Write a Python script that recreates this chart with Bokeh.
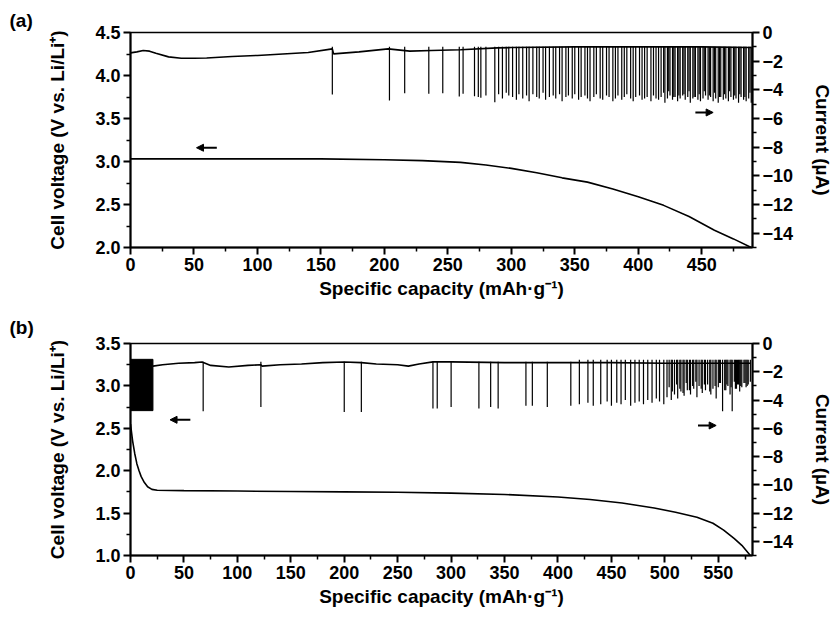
from bokeh.plotting import figure
from bokeh.models import (Range1d, LinearAxis, FixedTicker, CustomJSTickFormatter,
                          PrintfTickFormatter, Arrow, NormalHead)
from bokeh.layouts import column
from bokeh.embed import file_html
from bokeh.resources import INLINE

# ---------------- Panel (a) data ----------------
a_volt_cap = [0, 25, 50, 100, 150, 200, 230, 260, 280, 300, 320, 340, 360, 380, 400, 420, 440, 460, 475, 489]
a_volt = [3.03, 3.03, 3.03, 3.03, 3.03, 3.02, 3.01, 2.99, 2.96, 2.92, 2.87, 2.81, 2.76, 2.68, 2.59, 2.49, 2.36, 2.2, 2.1, 2.0]

a_cur_cap = [0, 5, 10, 15, 20, 30, 40, 50, 60, 80, 100, 120, 140, 159, 160, 180, 203, 220, 237, 260, 289, 300, 350, 400, 450, 489]
a_cur = [-1.42, -1.35, -1.26, -1.3, -1.45, -1.7, -1.8, -1.8, -1.78, -1.67, -1.6, -1.5, -1.4, -1.14, -1.49, -1.35, -1.14, -1.3,
         -1.26, -1.2, -1.07, -1.05, -1.0, -1.0, -1.0, -1.05]

a_spk_cap = [159, 204, 216, 235, 246, 259, 262, 271, 274, 276, 280, 287,
             290, 293, 296, 298, 301, 304, 306, 309, 312, 314, 317, 320, 322, 325, 327, 330, 333, 335, 338, 340,
             343, 345, 348, 350, 353, 355, 358, 360, 362, 365, 367, 370, 372, 375, 377, 380, 382, 384, 387, 389,
             391, 394, 396, 398, 401, 403, 405, 407, 410, 412, 414, 416, 418, 421, 423, 425, 427, 429, 431, 433,
             435, 437, 439, 441, 443, 445, 447, 449, 451, 453, 455, 457, 459, 461, 463, 465, 467, 469, 471, 473,
             475, 477, 479, 481, 483, 485, 487, 489,
             420, 424, 428, 432, 436, 440, 444, 448, 452, 456,
             460, 464, 468, 472, 476, 480, 484, 488]
a_spk_low = [-4.33, -4.75, -4.23, -4.28, -4.23, -4.47, -4.28, -4.45, -4.5, -4.55, -4.4, -4.86,
             -4.3, -4.6, -4.2, -4.4, -4.5, -4.7, -4.3, -4.6, -4.4, -4.8, -4.3, -4.5, -4.6, -4.2, -4.7, -4.5, -4.4, -4.6, -4.3, -4.8,
             -4.5, -4.4, -4.6, -4.3, -4.7, -4.5, -4.4, -4.6, -4.8, -4.5, -4.3, -4.6, -4.7, -4.4, -4.5, -4.8, -4.6, -4.4, -4.7, -4.5,
             -4.3, -4.6, -4.8, -4.5, -4.4, -4.7, -4.6, -4.5, -4.8, -4.4, -4.6, -4.7, -4.5, -4.9, -4.6, -4.4, -4.7, -4.5, -4.8, -4.6,
             -4.4, -4.7, -4.5, -4.9, -4.6, -4.5, -4.7, -4.8, -4.6, -4.4, -4.7, -4.5, -4.8, -4.6, -4.9, -4.5, -4.7, -4.6, -4.8, -4.5,
             -4.7, -4.6, -4.9, -4.5, -4.7, -4.8, -4.6, -4.9,
             -4.2, -4.1, -4.5, -4.4, -4.3, -4.1, -4.5, -4.3, -4.1, -4.4,
             -4.2, -4.5, -4.3, -4.1, -4.4, -4.3, -4.5, -4.2]
a_spk_top = [-1.0] * len(a_spk_cap)

# ---------------- Panel (b) data ----------------
b_volt_cap = [0, 2, 4, 6, 8, 10, 13, 16, 20, 25, 50, 100, 150, 200, 250, 300, 350, 400, 430, 460, 490, 510, 530, 545, 555, 565, 572, 580]
b_volt = [2.55, 2.35, 2.2, 2.08, 2.0, 1.93, 1.86, 1.81, 1.78, 1.77, 1.765, 1.76, 1.755, 1.75, 1.745, 1.735, 1.72, 1.69,
          1.66, 1.62, 1.56, 1.51, 1.45, 1.38, 1.3, 1.2, 1.12, 1.0]

b_block = [0, 21, -1.12, -4.75]   # left, right, top, bottom of the dense start region

b_cur_cap = [21, 30, 45, 60, 67, 75, 92, 110, 122, 123, 140, 160, 180, 200, 216, 230, 250, 260, 270, 283, 300, 350, 400, 450, 500, 550, 580]
b_cur = [-1.6, -1.5, -1.4, -1.35, -1.31, -1.55, -1.66, -1.55, -1.5, -1.6, -1.5, -1.45, -1.35, -1.31, -1.35, -1.45, -1.5,
         -1.6, -1.45, -1.3, -1.3, -1.35, -1.35, -1.35, -1.4, -1.4, -1.4]

b_spk_cap = [68, 122, 200, 216, 283, 287, 300, 326, 337, 344, 370, 376, 390, 412, 420, 428, 433, 440, 446, 450, 455,
             459, 463, 468, 472, 476, 480, 484, 488, 492, 495, 499, 502, 506, 509, 512, 515, 518, 521, 524, 527, 530,
             532, 535, 538, 540, 543, 545, 548, 550, 552, 554, 557, 559, 561, 563, 566, 568, 570, 572, 575, 577, 580,
             504, 507, 511, 514, 517, 520, 523, 526, 529, 534, 537, 542, 547, 551, 556, 558, 562, 565, 567, 569, 571,
             574, 576, 578]
b_spk_low = [-4.8, -4.5, -4.85, -4.85, -4.6, -4.6, -4.5, -4.6, -4.5, -4.6, -4.4, -4.4, -4.5, -4.4, -4.3, -4.2, -4.4,
             -4.3, -4.1, -4.4, -4.2, -4.3, -4.0, -4.4, -4.2, -4.1, -4.3, -4.0, -4.2, -3.9, -4.1, -4.3, -3.8, -4.0, -3.6,
             -3.9, -3.4, -3.7, -3.3, -3.6, -3.2, -3.8, -3.0, -3.5, -3.3, -2.9, -3.6, -3.2, -3.9, -3.1, -2.8, -4.8, -3.3,
             -3.0, -3.6, -4.8, -3.2, -2.9, -3.4, -3.1, -2.8, -3.0, -2.7,
             -3.1, -3.4, -2.9, -3.2, -3.5, -2.8, -3.3, -3.0, -2.7, -3.2, -2.9, -3.4, -3.0, -2.8, -3.3, -2.9, -3.1, -2.7,
             -3.2, -2.9, -3.0, -2.8, -3.1, -2.9]
b_spk_top = [-1.3] * 14 + [-1.15] * (len(b_spk_cap) - 14)

FONT = "Liberation Sans"


def style_panel(p, label, title_standoff, y_ticks, y_minor, x_ticks, x_minor, cur_range):
    p.xgrid.visible = False
    p.ygrid.visible = False
    p.outline_line_color = "black"
    p.outline_line_width = 1.5
    p.background_fill_color = "white"
    p.border_fill_color = "white"
    p.title.text = label
    p.title.align = "left"
    p.title.offset = -121
    p.title.standoff = title_standoff
    p.title.text_font = FONT
    p.title.text_font_style = "bold"
    p.title.text_font_size = "19px"
    p.title.text_color = "black"
    p.extra_y_ranges = {"cur": Range1d(*cur_range)}
    right = LinearAxis(y_range_name="cur")
    p.add_layout(right, "right")
    p.xaxis.ticker = FixedTicker(ticks=x_ticks, minor_ticks=x_minor)
    p.yaxis[0].ticker = FixedTicker(ticks=y_ticks, minor_ticks=y_minor)
    p.yaxis[0].formatter = PrintfTickFormatter(format="%.1f")
    right.ticker = FixedTicker(ticks=[0, -2, -4, -6, -8, -10, -12, -14],
                               minor_ticks=[-1, -3, -5, -7, -9, -11, -13, -15])
    right.formatter = CustomJSTickFormatter(code="return tick == 0 ? '0' : '\u2212' + Math.abs(tick);")
    for ax in [p.xaxis[0], p.yaxis[0], right]:
        ax.axis_line_width = 2
        ax.axis_line_color = "black"
        ax.major_tick_line_width = 2
        ax.minor_tick_line_width = 1.5
        ax.major_tick_out = 7
        ax.major_tick_in = 0
        ax.minor_tick_out = 4
        ax.minor_tick_in = 0
        ax.major_label_text_font = FONT
        ax.major_label_text_font_style = "bold"
        ax.major_label_text_font_size = "18px"
        ax.major_label_text_color = "black"
        ax.axis_label_text_font = FONT
        ax.axis_label_text_font_style = "bold"
        ax.axis_label_text_font_size = "19px"
        ax.axis_label_text_color = "black"
        ax.major_label_standoff = 3
    p.xaxis[0].axis_label_standoff = 4
    p.yaxis[0].axis_label_standoff = 24
    right.axis_label_standoff = 16
    p.xaxis[0].axis_label = "Specific capacity (mAh\u00b7g\u207b\u00b9)"
    p.yaxis[0].axis_label = "Cell voltage (V vs. Li/Li\u207a)"
    right.axis_label = "Current (\u00b5A)"
    return right


# ---------------- Figure (a) ----------------
pa = figure(width=836, height=309, x_range=Range1d(0, 490), y_range=Range1d(2.0, 4.5),
            output_backend="svg", toolbar_location=None,
            min_border_left=130, min_border_right=80, min_border_top=32, min_border_bottom=62)
style_panel(pa, "(a)", 3, [2.0, 2.5, 3.0, 3.5, 4.0, 4.5], [2.25, 2.75, 3.25, 3.75, 4.25],
            list(range(0, 500, 50)), list(range(25, 500, 50)), (-15, 0))
pa.line(a_volt_cap, a_volt, line_color="black", line_width=1.6)
pa.line(a_cur_cap, a_cur, line_color="black", line_width=1.6, y_range_name="cur")
pa.segment(x0=a_spk_cap, y0=a_spk_top, x1=a_spk_cap, y1=a_spk_low,
           line_color="black", line_width=1.2, y_range_name="cur")
pa.add_layout(Arrow(end=NormalHead(size=7, fill_color="black", line_color="black"),
                    x_start=68, y_start=3.16, x_end=52, y_end=3.16, line_width=2))
pa.add_layout(Arrow(end=NormalHead(size=7, fill_color="black", line_color="black"),
                    x_start=445, y_start=-5.58, x_end=459, y_end=-5.58, line_width=2, y_range_name="cur"))

# ---------------- Figure (b) ----------------
pb = figure(width=836, height=309, x_range=Range1d(0, 582), y_range=Range1d(1.0, 3.5),
            output_backend="svg", toolbar_location=None,
            min_border_left=130, min_border_right=81, min_border_top=34, min_border_bottom=63)
style_panel(pb, "(b)", 11, [1.0, 1.5, 2.0, 2.5, 3.0, 3.5], [1.25, 1.75, 2.25, 2.75, 3.25],
            list(range(0, 600, 50)), list(range(25, 600, 50)), (-15, 0))
pb.quad(left=[b_block[0]], right=[b_block[1]], top=[b_block[2]], bottom=[b_block[3]],
        fill_color="black", line_color="black", y_range_name="cur")
pb.line(b_volt_cap, b_volt, line_color="black", line_width=1.6)
pb.line(b_cur_cap, b_cur, line_color="black", line_width=1.6, y_range_name="cur")
pb.segment(x0=b_spk_cap, y0=b_spk_top, x1=b_spk_cap, y1=b_spk_low,
           line_color="black", line_width=1.2, y_range_name="cur")
pb.add_layout(Arrow(end=NormalHead(size=7, fill_color="black", line_color="black"),
                    x_start=56, y_start=2.6, x_end=37, y_end=2.6, line_width=2))
pb.add_layout(Arrow(end=NormalHead(size=7, fill_color="black", line_color="black"),
                    x_start=531, y_start=-5.8, x_end=548, y_end=-5.8, line_width=2, y_range_name="cur"))

layout = column(pa, pb, spacing=0)
open("out.html", "w").write(file_html(layout, INLINE))
